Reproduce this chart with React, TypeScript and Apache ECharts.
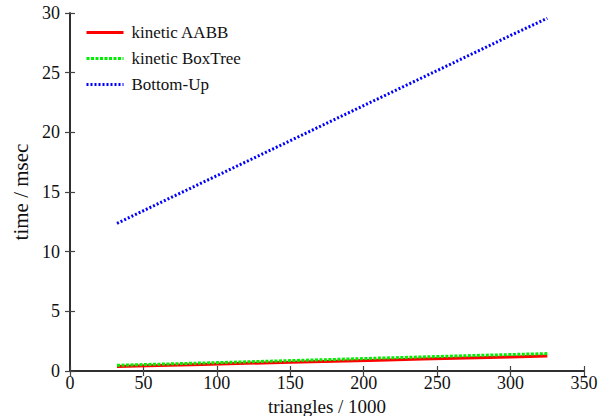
import React, { useEffect, useRef } from "react";
import * as echarts from "echarts";

const triangles = [32, 60, 90, 120, 150, 180, 210, 240, 270, 300, 325];
const kineticAABB = [0.38, 0.46, 0.55, 0.64, 0.73, 0.82, 0.91, 1.0, 1.09, 1.18, 1.26];
const kineticBoxTree = [0.48, 0.57, 0.67, 0.77, 0.87, 0.97, 1.08, 1.18, 1.28, 1.38, 1.46];
const bottomUp = [12.37, 14.02, 15.78, 17.54, 19.3, 21.07, 22.83, 24.59, 26.35, 28.12, 29.56];

const FONT = "Liberation Serif";

export default function App() {
  const ref = useRef<HTMLDivElement>(null);
  useEffect(() => {
    const chart = echarts.init(ref.current!, null, { renderer: "svg" });
    const pairs = (ys: number[]) => triangles.map((x, i) => [x, ys[i]]);
    const axisLine = { show: true, lineStyle: { color: "#222", width: 1.5 } };
    const tick = { show: true, inside: true, length: 5, lineStyle: { color: "#444", width: 1.2 } };
    chart.setOption({
      animation: false,
      backgroundColor: "#fff",
      textStyle: { fontFamily: FONT },
      grid: { left: 70, right: 22, top: 13, bottom: 45, outerBoundsMode: "none", containLabel: false },
      legend: {
        orient: "vertical",
        left: 80,
        top: 19,
        itemWidth: 37,
        itemHeight: 10,
        itemGap: 9,
        itemStyle: { opacity: 0 },
        lineStyle: { width: 3 },
        textStyle: { fontFamily: FONT, fontSize: 17, color: "#111", padding: [0, 0, 0, 3] },
        data: ["kinetic AABB", "kinetic BoxTree", "Bottom-Up"],
      },
      xAxis: [
        {
          type: "value",
          min: 0,
          max: 350,
          interval: 50,
          name: "triangles / 1000",
          nameLocation: "middle",
          nameGap: 12,
          nameTextStyle: { fontFamily: FONT, fontSize: 19, color: "#111" },
          axisLine,
          axisTick: tick,
          splitLine: { show: false },
          axisLabel: { fontFamily: FONT, fontSize: 18, color: "#111", margin: 3 },
        },
        {
          type: "value",
          position: "top",
          min: 0,
          max: 350,
          interval: 50,
          axisLine,
          axisTick: tick,
          splitLine: { show: false },
          axisLabel: { show: false },
        },
      ],
      yAxis: [
        {
          type: "value",
          min: 0,
          max: 30,
          interval: 5,
          name: "time / msec",
          nameLocation: "middle",
          nameGap: 34,
          nameTextStyle: { fontFamily: FONT, fontSize: 21, color: "#111" },
          axisLine,
          axisTick: tick,
          splitLine: { show: false },
          axisLabel: { fontFamily: FONT, fontSize: 18, color: "#111", margin: 10 },
        },
        {
          type: "value",
          position: "right",
          min: 0,
          max: 30,
          interval: 5,
          axisLine,
          axisTick: tick,
          splitLine: { show: false },
          axisLabel: { show: false },
        },
      ],
      series: [
        {
          name: "kinetic AABB",
          type: "line",
          data: pairs(kineticAABB),
          symbol: "none",
          color: "#ff0000",
          lineStyle: { color: "#ff0000", width: 3, type: "solid" },
        },
        {
          name: "kinetic BoxTree",
          type: "line",
          data: pairs(kineticBoxTree),
          symbol: "none",
          color: "#00ee00",
          lineStyle: { color: "#00ee00", width: 3, type: [3, 1.5] },
        },
        {
          name: "Bottom-Up",
          type: "line",
          data: pairs(bottomUp),
          symbol: "none",
          color: "#0000ff",
          lineStyle: { color: "#0000ff", width: 3, type: [2, 2] },
        },
      ],
    });
    return () => chart.dispose();
  }, []);
  return <div ref={ref} style={{ width: 606, height: 416, position: "fixed", left: 0, top: 0 }} />;
}
